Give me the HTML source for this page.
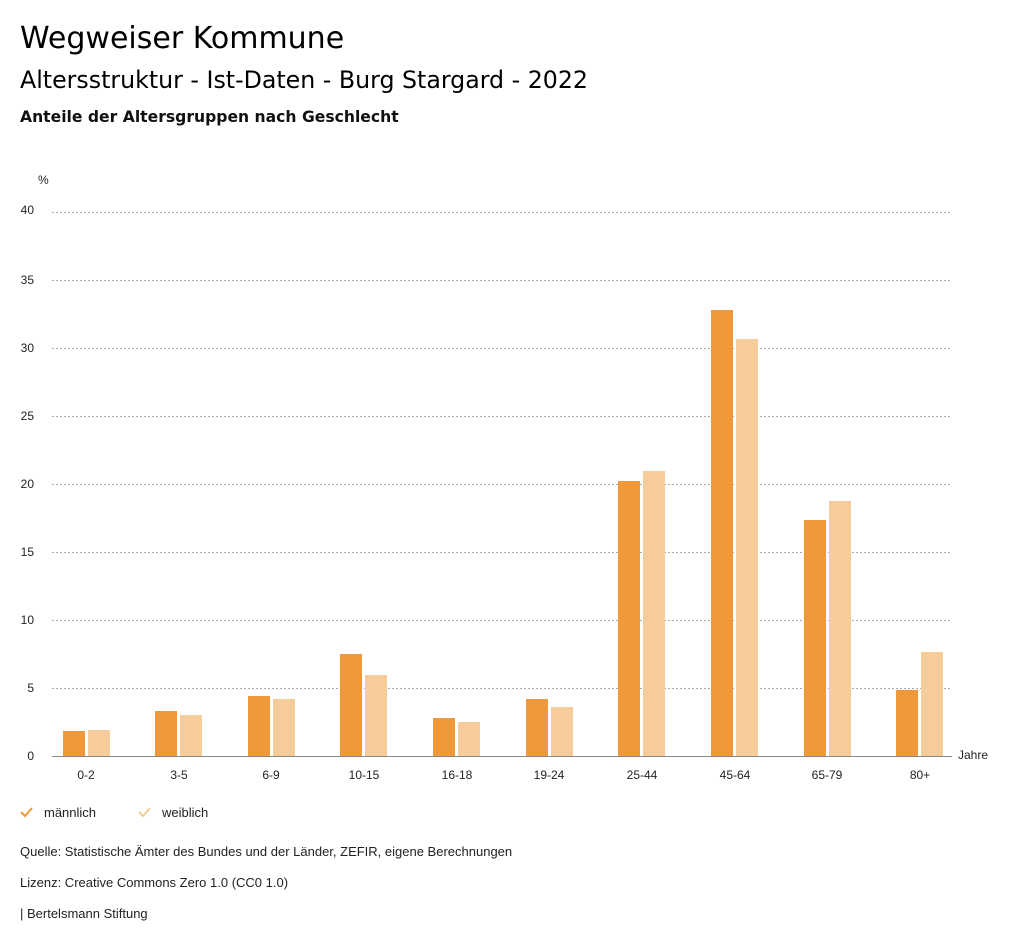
<!DOCTYPE html>
<html><head><meta charset="utf-8"><style>
body{margin:0;background:#fff;font-family:"Liberation Sans",sans-serif;}
svg text{font-family:"Liberation Sans",sans-serif;}
svg text.h{font-family:"DejaVu Sans",sans-serif;}
</style></head><body>
<svg width="1024" height="946" xmlns="http://www.w3.org/2000/svg">
<rect width="1024" height="946" fill="#fff"/>
<text class="h" x="20" y="48" font-size="30" fill="#000">Wegweiser Kommune</text>
<text class="h" x="20" y="88" font-size="23.7" fill="#000">Altersstruktur - Ist-Daten - Burg Stargard - 2022</text>
<text class="h" x="20" y="122" font-size="15.6" font-weight="bold" fill="#111">Anteile der Altersgruppen nach Geschlecht</text>
<text x="38" y="184" font-size="12" fill="#222">%</text>
<g stroke="#aaa" stroke-dasharray="2,2" stroke-width="1">
<line x1="52" x2="952" y1="212.5" y2="212.5"/><line x1="52" x2="952" y1="280.5" y2="280.5"/>
<line x1="52" x2="952" y1="348.5" y2="348.5"/><line x1="52" x2="952" y1="416.5" y2="416.5"/>
<line x1="52" x2="952" y1="484.5" y2="484.5"/><line x1="52" x2="952" y1="552.5" y2="552.5"/>
<line x1="52" x2="952" y1="620.5" y2="620.5"/><line x1="52" x2="952" y1="688.5" y2="688.5"/>
</g>
<line x1="52" x2="952" y1="756.5" y2="756.5" stroke="#888"/>
<g font-size="12" fill="#222" text-anchor="end">
<text x="34" y="214">40</text><text x="34" y="284">35</text><text x="34" y="352">30</text>
<text x="34" y="420">25</text><text x="34" y="488">20</text><text x="34" y="556">15</text>
<text x="34" y="624">10</text><text x="34" y="692">5</text><text x="34" y="760">0</text>
</g>
<text x="958" y="759" font-size="12" fill="#222">Jahre</text>
<g fill="#f0993a">
<rect x="63" y="731" width="22" height="25"/><rect x="155" y="711" width="22" height="45"/>
<rect x="248" y="696" width="22" height="60"/><rect x="340" y="654" width="22" height="102"/>
<rect x="433" y="718" width="22" height="38"/><rect x="526" y="699" width="22" height="57"/>
<rect x="618" y="481" width="22" height="275"/><rect x="711" y="310" width="22" height="446"/>
<rect x="804" y="520" width="22" height="236"/><rect x="896" y="690" width="22" height="66"/>
</g>
<g fill="#f5cc9a">
<rect x="88" y="730" width="22" height="26"/><rect x="180" y="715" width="22" height="41"/>
<rect x="273" y="699" width="22" height="57"/><rect x="365" y="675" width="22" height="81"/>
<rect x="458" y="722" width="22" height="34"/><rect x="551" y="707" width="22" height="49"/>
<rect x="643" y="471" width="22" height="285"/><rect x="736" y="339" width="22" height="417"/>
<rect x="829" y="501" width="22" height="255"/><rect x="921" y="652" width="22" height="104"/>
</g>
<g font-size="12" fill="#222" text-anchor="middle">
<text x="86" y="779">0-2</text><text x="179" y="779">3-5</text><text x="271" y="779">6-9</text>
<text x="364" y="779">10-15</text><text x="457" y="779">16-18</text><text x="549" y="779">19-24</text>
<text x="642" y="779">25-44</text><text x="735" y="779">45-64</text><text x="827" y="779">65-79</text>
<text x="920" y="779">80+</text>
</g>
<path d="M21 812 l4 4 l7 -8" stroke="#f0993a" stroke-width="2" fill="none"/>
<text x="44" y="817" font-size="13" fill="#222">männlich</text>
<path d="M139 812 l4 4 l7 -8" stroke="#f5cc9a" stroke-width="2" fill="none"/>
<text x="162" y="817" font-size="13" fill="#222">weiblich</text>
<g font-size="13" fill="#222">
<text x="20" y="856">Quelle: Statistische Ämter des Bundes und der Länder, ZEFIR, eigene Berechnungen</text>
<text x="20" y="887">Lizenz: Creative Commons Zero 1.0 (CC0 1.0)</text>
<text x="20" y="918">| Bertelsmann Stiftung</text>
</g>
</svg>
</body></html>
